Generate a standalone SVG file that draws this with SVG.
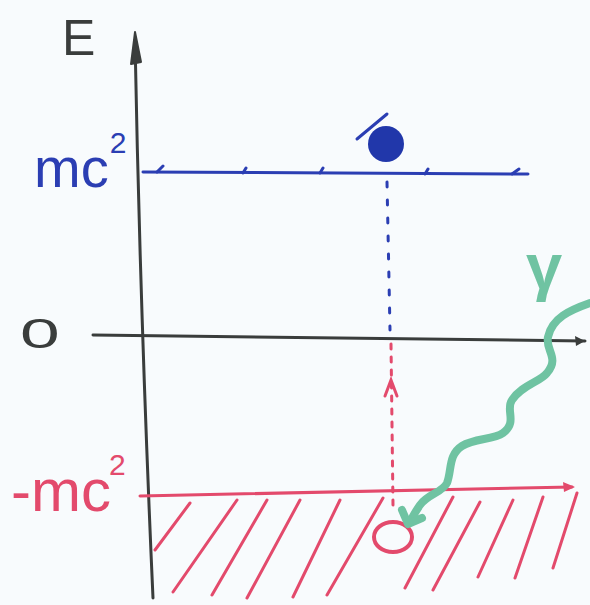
<svg xmlns="http://www.w3.org/2000/svg" width="590" height="605" viewBox="0 0 590 605">
<defs>
<style>
.ax{fill:none;stroke:#3a3d3c;stroke-width:3;stroke-linecap:round}
.bl{fill:none;stroke:#2b3eb3;stroke-width:3;stroke-linecap:round}
.rd{fill:none;stroke:#e34a6c;stroke-width:3;stroke-linecap:round}
.gr{fill:none;stroke:#6fc3a2;stroke-width:8;stroke-linecap:round;stroke-linejoin:round}
.t{font-family:"Liberation Sans","DejaVu Sans",sans-serif}
</style>
</defs>
<rect width="590" height="605" fill="#f8fbfd"/>

<g id="axes">
<path class="ax" d="M135,40 C138,200 145,420 153,598"/>
<path d="M135,32 L141,62 L131,64 Z" fill="#3a3d3c" stroke="#3a3d3c" stroke-width="2" stroke-linejoin="round"/>
<path class="ax" d="M93,335 L585,341"/>
<path d="M585,341 L575,336 L576,346 Z" fill="#3a3d3c"/>
</g>

<g id="level-mc2">
<path class="bl" d="M143,172 L528,174"/>
<path class="bl" stroke-width="2" d="M157,172 L163,166 M243,173 L246,168 M320,173 L323,168 M425,174 L428,169 M512,174 L519,169"/>
</g>

<g id="level-minus-mc2">
<path class="rd" d="M140,496 L572,487"/>
<path d="M575,487 L563,482 L564,492 Z" fill="#e34a6c"/>
<path class="rd" d="M190,503 L155,550 M237,500 L173,592 M267,500 L212,595 M300,500 L247,598 M340,500 L293,597 M383,498 L327,595 M453,497 L405,588 M480,502 L433,590 M513,500 L478,577 M543,497 L515,578 M577,493 L553,568"/>
</g>

<g id="electron">
<circle cx="386" cy="144" r="18" fill="#2137aa"/>
<path class="bl" stroke-width="2" d="M357,139 L387,114"/>
</g>

<g id="hole">
<ellipse cx="393" cy="537" rx="19" ry="15" fill="none" stroke="#e34a6c" stroke-width="4"/>
</g>

<g id="connectors">
<path class="bl" stroke-width="2.5" stroke-dasharray="5 13" d="M387,182 L390,330"/>
<path class="rd" stroke-dasharray="5 8" d="M391,344 L393,505"/>
<path class="rd" stroke-width="2.5" d="M385,396 L391,380 L397,396"/>
<path id="photon" class="gr" d="M590,303 C570,310 552,318 548,337 C545,350 560,358 547,373 C540,382 522,385 512,400 C505,410 518,422 503,433 C493,440 475,438 462,446 C448,455 452,470 447,483 C443,492 428,494 420,505 C415,512 412,518 410,522"/>
<path class="gr" stroke-width="6" d="M402,510 L408,524 L422,518"/>
</g>

<g id="labels">
<text class="t" x="62" y="55" font-size="50" fill="#3a3d3c">E</text>
<text class="t" x="34" y="187" font-size="56" fill="#2b3eb3">mc<tspan dx="1" dy="-34" font-size="30">2</tspan></text>
<text class="t" x="20" y="348" font-size="42" fill="#3a3d3c" transform="translate(20 0) scale(1.7 1) translate(-20 0)">0</text>
<text class="t" x="11" y="511" font-size="60" fill="#e34a6c">-mc<tspan dx="-2" dy="-36" font-size="30">2</tspan></text>
<text class="t" x="526" y="289" font-size="65" font-weight="bold" fill="#6fc3a2">γ</text>
</g>
</svg>
